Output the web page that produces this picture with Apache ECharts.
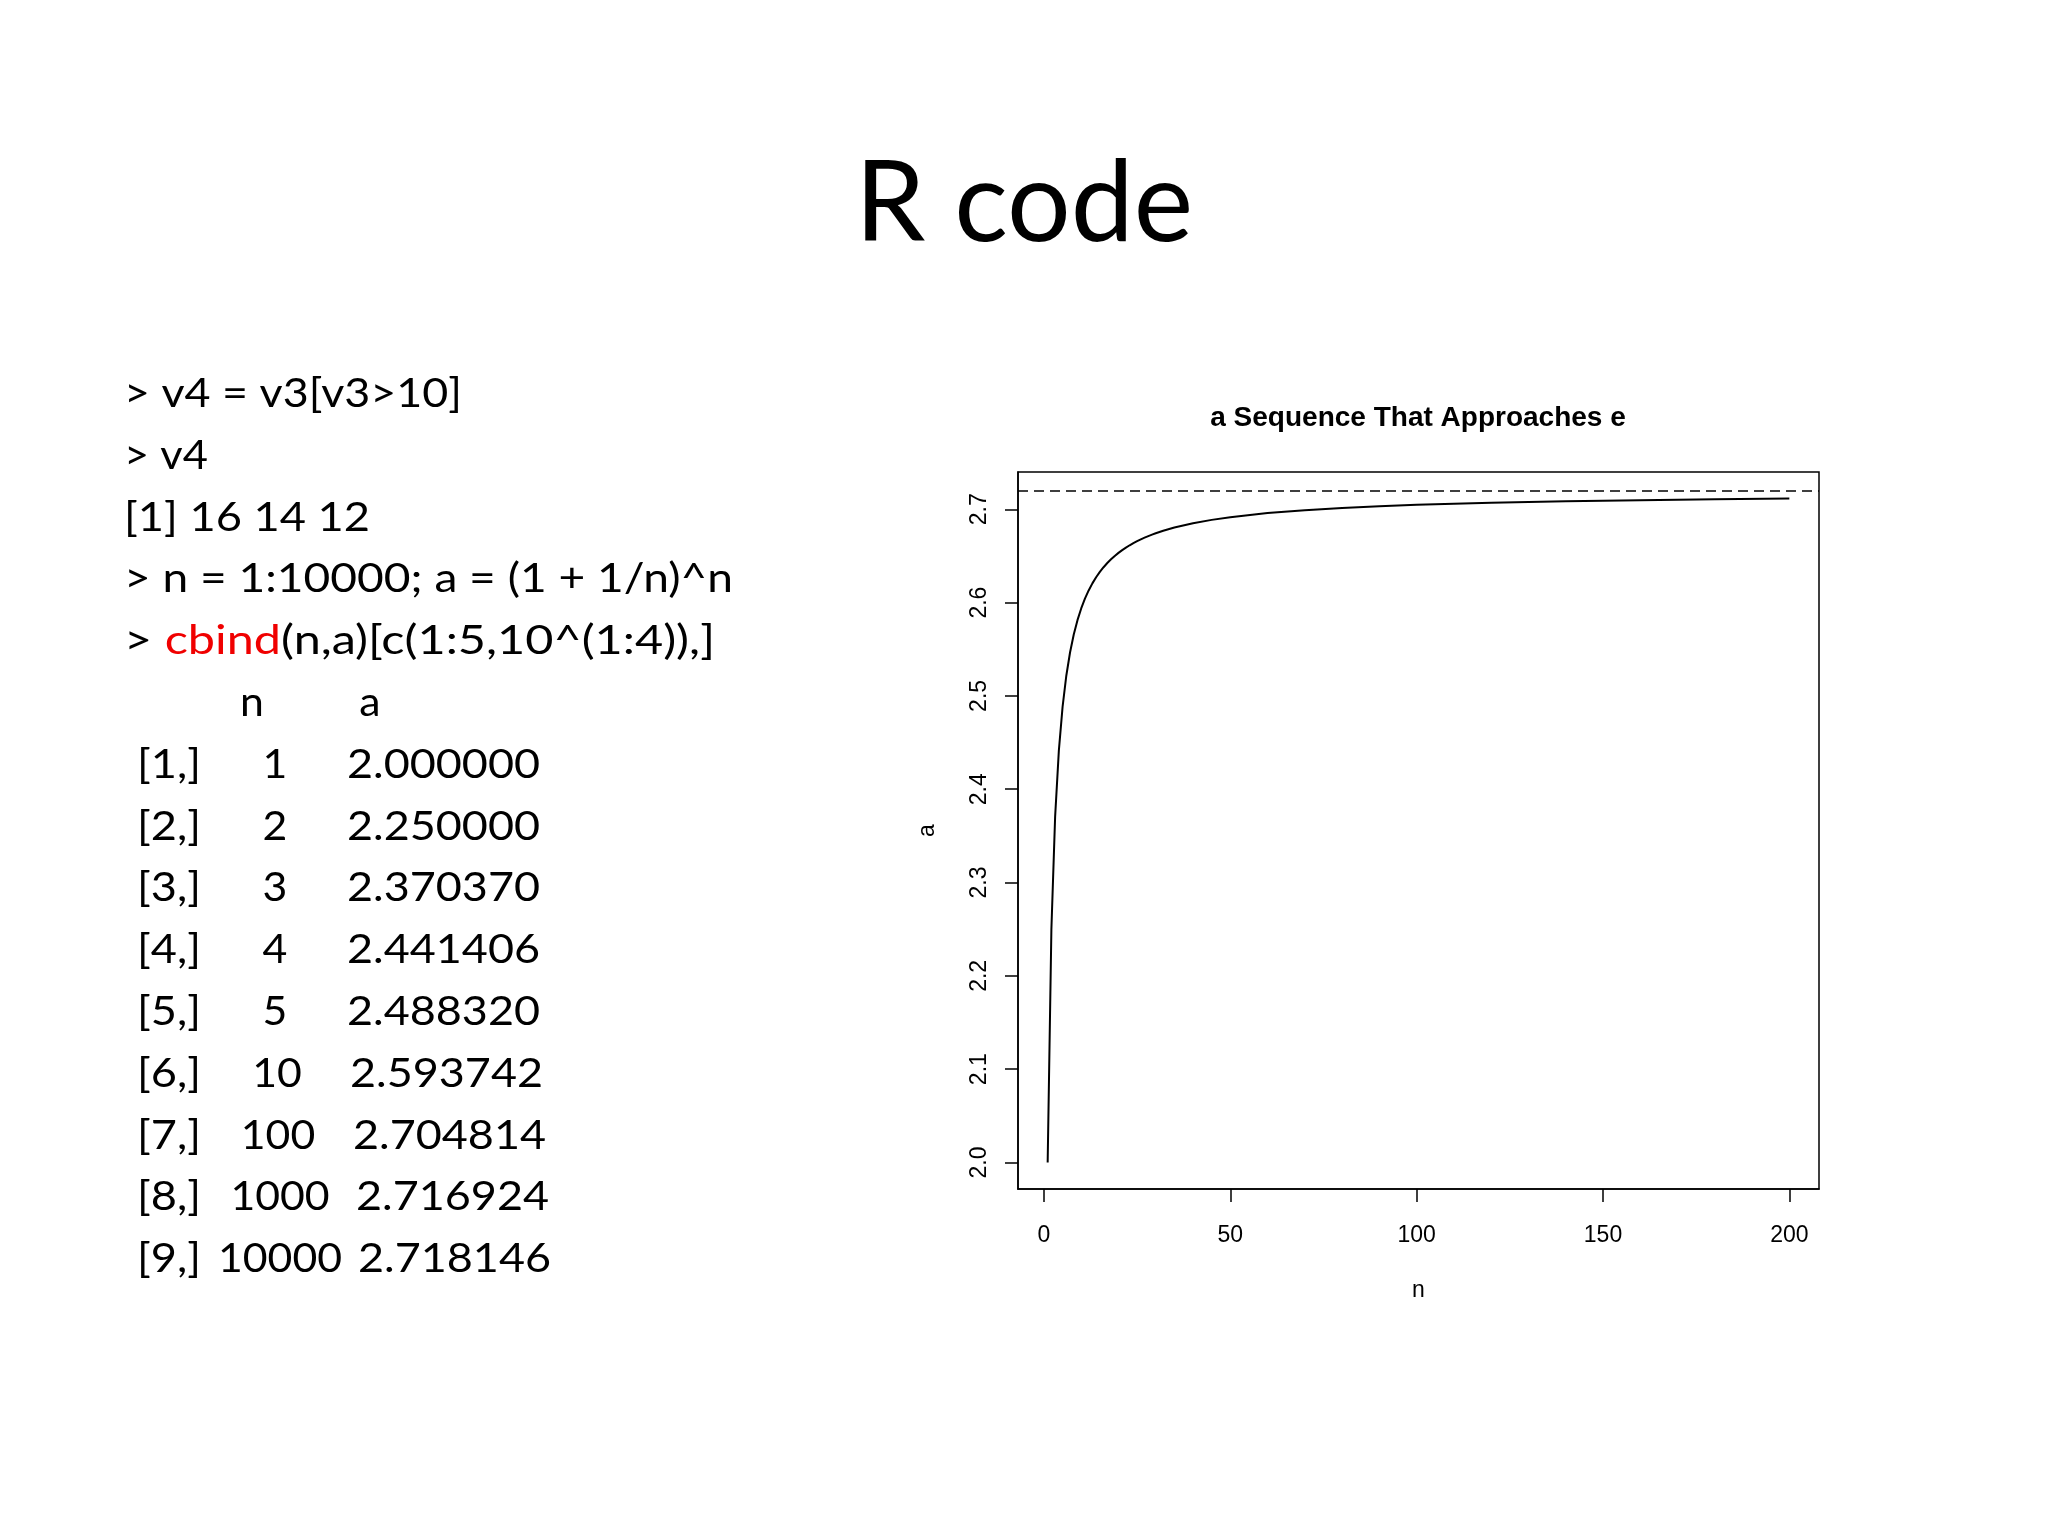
<!DOCTYPE html>
<html>
<head>
<meta charset="utf-8">
<script src="https://cdn.jsdelivr.net/npm/echarts@6/dist/echarts.min.js"></script>
<style>
html,body{margin:0;padding:0;background:#ffffff;}
#chart{width:2048px;height:1536px;}
</style>
</head>
<body>
<div id="chart"></div>
<script>
// ---------------- data ----------------
const slideTitle = 'R code';
const chartTitle = 'a Sequence That Approaches e';
const xAxisName = 'n';
const yAxisName = 'a';

// n and a = (1 + 1/n)^n values read for the plotted curve
const curveN = [1,2,3,4,5,6,7,8,9,10,11,12,13,14,15,16,17,18,19,20,21,22,23,24,25,26,27,28,29,30,
                32,35,40,45,50,60,70,80,90,100,120,140,150,160,180,200];
const curveA = [2.000000,2.250000,2.370370,2.441406,2.488320,2.521626,2.546500,2.565785,2.581175,2.593742,
                2.604199,2.613035,2.620604,2.627154,2.632880,2.637930,2.642415,2.646426,2.650035,2.653298,
                2.656264,2.658970,2.661450,2.663732,2.665836,2.667785,2.669594,2.671278,2.672849,2.674319,
                2.676990,2.680439,2.685064,2.688681,2.691588,2.695970,2.699116,2.701485,2.703332,2.704814,
                2.707041,2.708637,2.709276,2.709835,2.710769,2.711517];
const limitE = 2.718282;

const xTicks = [0, 50, 100, 150, 200];
const yTicks = [2.0, 2.1, 2.2, 2.3, 2.4, 2.5, 2.6, 2.7];
const yTickLabels = ['2.0','2.1','2.2','2.3','2.4','2.5','2.6','2.7'];

const codeLines = [
  '> v4 = v3[v3>10]',
  '> v4',
  '[1] 16 14 12',
  '> n = 1:10000; a = (1 + 1/n)^n'
];
const cbindPrefix = '> ';
const cbindWord = 'cbind';
const cbindRest = '(n,a)[c(1:5,10^(1:4)),]';

const tableHeader = ['n', 'a'];
const rowLabels = ['[1,]','[2,]','[3,]','[4,]','[5,]','[6,]','[7,]','[8,]','[9,]'];
const nColumn = ['1','2','3','4','5','10','100','1000','10000'];
const aColumn = ['2.000000','2.250000','2.370370','2.441406','2.488320','2.593742','2.704814','2.716924','2.718146'];

// ---------------- layout (positions / styles) ----------------
const BODY_FAMILY = 'Lato';
const BODY_SIZE = 40;
const CODE_X = 124;
const LINE0_Y = 394;
const LINE_STEP = 61.8;
const codeTargetW = [338, 84, 246, 609, 591];
const headerX = [252, 370];
const rowLabelX = 137;
const ROW_LABEL_W = 64;
const nCenterX = [275,275,275,275,275,277,278,280,280];
const aLeftX = [347,347,347,347,347,350,353,356,358];
const A_W = 193;
const DIGIT_W = 24.8;

const mctx = document.createElement('canvas').getContext('2d');
function textW(str, size, family, weight) {
  mctx.font = (weight || 'normal') + ' ' + size + 'px ' + family;
  return mctx.measureText(str).width;
}

const graphics = [];
// slide title
const titleScale = 338 / textW(slideTitle, 112, BODY_FAMILY);
graphics.push({
  type: 'text', x: 1024, y: 205, scaleX: titleScale,
  style: { text: slideTitle, font: 'normal 112px ' + BODY_FAMILY, fill: '#000', align: 'center', verticalAlign: 'middle' }
});
const bFont = 'normal ' + BODY_SIZE + 'px ' + BODY_FAMILY;
// code lines
codeLines.forEach((t, i) => {
  const sx = codeTargetW[i] / textW(t, BODY_SIZE, BODY_FAMILY);
  graphics.push({
    type: 'text', x: CODE_X, y: LINE0_Y + i * LINE_STEP, scaleX: sx,
    style: { text: t, font: bFont, fill: '#000', align: 'left', verticalAlign: 'middle' }
  });
});
{
  const full = cbindPrefix + cbindWord + cbindRest;
  const sx = codeTargetW[4] / textW(full, BODY_SIZE, BODY_FAMILY);
  graphics.push({
    type: 'text', x: CODE_X, y: LINE0_Y + 4 * LINE_STEP, scaleX: sx,
    style: {
      text: cbindPrefix + '{r|' + cbindWord + '}' + cbindRest,
      font: bFont, fill: '#000', align: 'left', verticalAlign: 'middle',
      rich: { r: { fill: '#f00000', font: bFont } }
    }
  });
}
// table
const digitScale = DIGIT_W / textW('0', BODY_SIZE, BODY_FAMILY);
tableHeader.forEach((h, j) => {
  graphics.push({ type: 'text', x: headerX[j], y: LINE0_Y + 5 * LINE_STEP, scaleX: digitScale,
    style: { text: h, font: bFont, fill: '#000', align: 'center', verticalAlign: 'middle' } });
});
rowLabels.forEach((lab, i) => {
  const y = LINE0_Y + (6 + i) * LINE_STEP;
  graphics.push({ type: 'text', x: rowLabelX, y: y, scaleX: ROW_LABEL_W / textW(lab, BODY_SIZE, BODY_FAMILY),
    style: { text: lab, font: bFont, fill: '#000', align: 'left', verticalAlign: 'middle' } });
  graphics.push({ type: 'text', x: nCenterX[i], y: y, scaleX: digitScale,
    style: { text: nColumn[i], font: bFont, fill: '#000', align: 'center', verticalAlign: 'middle' } });
  graphics.push({ type: 'text', x: aLeftX[i], y: y, scaleX: A_W / textW(aColumn[i], BODY_SIZE, BODY_FAMILY),
    style: { text: aColumn[i], font: bFont, fill: '#000', align: 'left', verticalAlign: 'middle' } });
});
// chart title
graphics.push({
  type: 'text', x: 1418, y: 418,
  style: { text: chartTitle, font: 'bold 28px "Liberation Sans"', fill: '#000', align: 'center', verticalAlign: 'middle' }
});

const AXIS_FONT = 'Liberation Sans';
const chart = echarts.init(document.getElementById('chart'), null, { renderer: 'canvas' });
chart.setOption({
  animation: false,
  backgroundColor: '#ffffff',
  graphic: graphics,
  grid: { left: 1018, top: 472, width: 801, height: 717, show: true, borderColor: '#000', borderWidth: 1.5, backgroundColor: 'transparent' },
  xAxis: {
    type: 'value', min: -6.96, max: 207.96,
    name: xAxisName, nameLocation: 'middle', nameGap: 90,
    nameTextStyle: { fontFamily: AXIS_FONT, fontSize: 23, color: '#000', lineHeight: 23 },
    splitLine: { show: false },
    axisLine: { show: true, onZero: false, lineStyle: { color: '#000', width: 1.5 } },
    axisTick: { show: true, length: 13, customValues: xTicks, lineStyle: { color: '#000', width: 1.5 } },
    axisLabel: { customValues: xTicks, fontFamily: AXIS_FONT, fontSize: 23, lineHeight: 23, color: '#000', margin: 35 }
  },
  yAxis: {
    type: 'value', min: 1.97154, max: 2.73998,
    name: yAxisName, nameLocation: 'middle', nameGap: 79, nameRotate: 90,
    nameTextStyle: { fontFamily: AXIS_FONT, fontSize: 23, color: '#000', lineHeight: 23 },
    splitLine: { show: false },
    axisLine: { show: true, onZero: false, lineStyle: { color: '#000', width: 1.5 } },
    axisTick: { show: true, length: 13, customValues: yTicks, lineStyle: { color: '#000', width: 1.5 } },
    axisLabel: { customValues: yTicks, rotate: 90, fontFamily: AXIS_FONT, fontSize: 23, lineHeight: 23, color: '#000', margin: 27,
      formatter: v => yTickLabels[yTicks.findIndex(t => Math.abs(t - v) < 1e-9)] || v.toFixed(1) }
  },
  series: [{
    type: 'line',
    data: curveN.map((n, i) => [n, curveA[i]]),
    showSymbol: false, symbol: 'none', smooth: false,
    lineStyle: { color: '#000', width: 2 },
    markLine: {
      silent: true, symbol: ['none', 'none'], label: { show: false },
      lineStyle: { color: '#000', width: 1.5, type: [10, 6] },
      data: [{ yAxis: limitE }]
    }
  }]
});
</script>
</body>
</html>
